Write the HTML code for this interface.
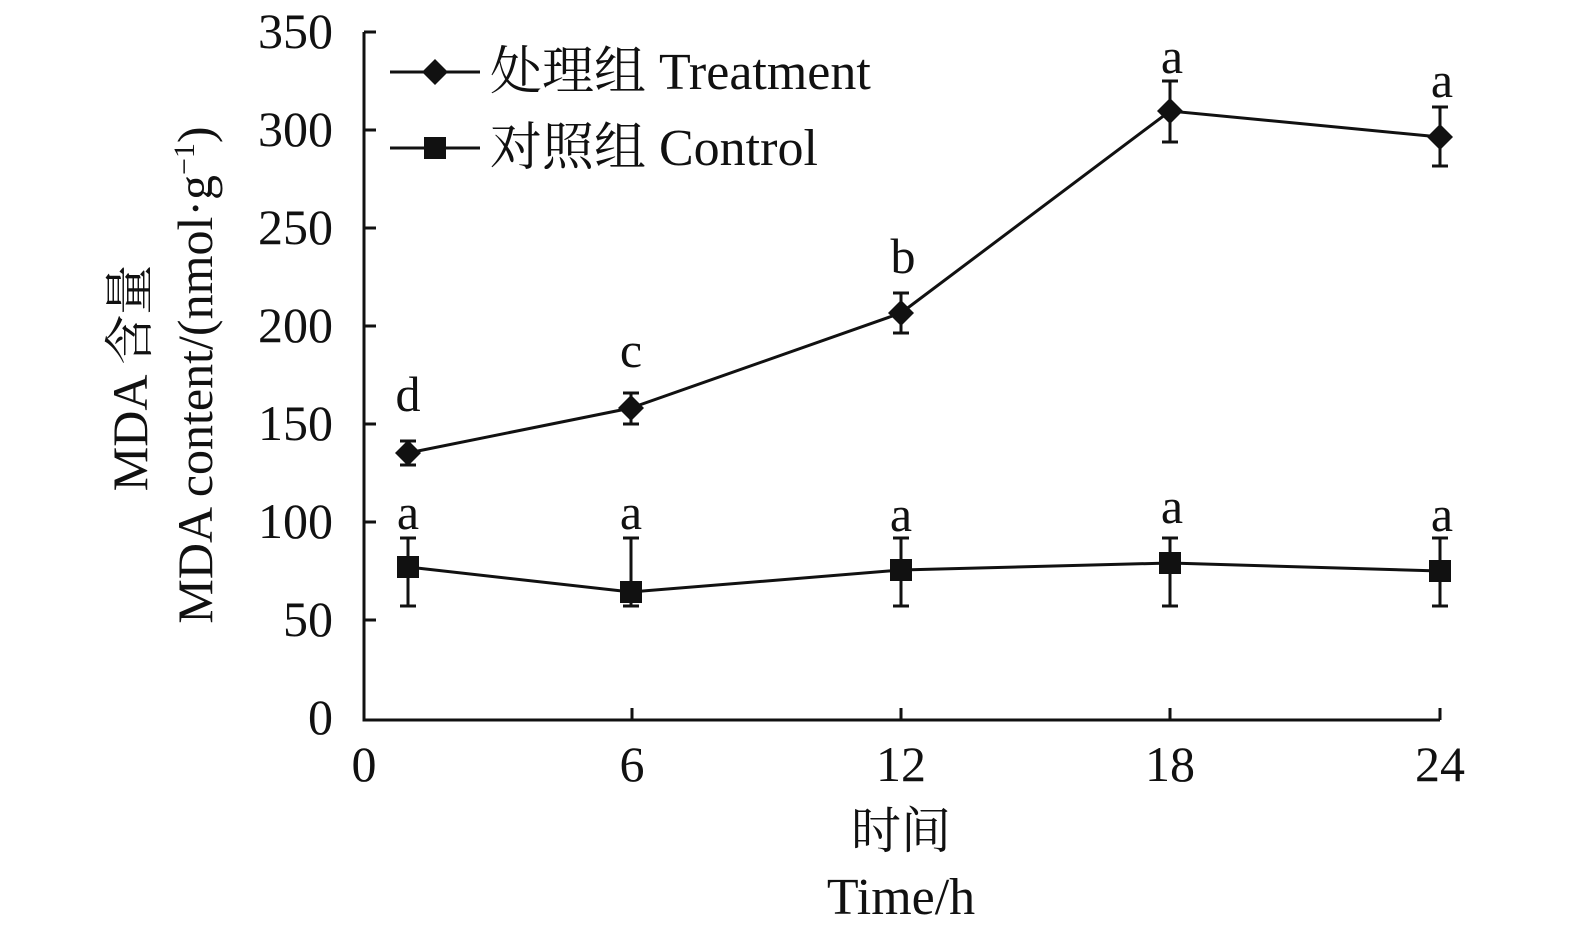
<!DOCTYPE html>
<html><head><meta charset="utf-8"><style>body{margin:0;background:#fff}svg{display:block}</style></head><body>
<svg width="1575" height="936" xmlns="http://www.w3.org/2000/svg" font-family="'Liberation Serif','Noto Serif CJK SC',serif" fill="#111">
<g stroke="#111" stroke-width="3" fill="none">
<path d="M364 32 V720 H1440"/>
<path d="M364 32h12M364 130h12M364 228h12M364 326h12M364 424h12M364 522h12M364 620h12"/>
<path d="M632 720v-12M901 720v-12M1170 720v-12M1440 720v-12"/>
<polyline points="408,453 631,408 901,313 1170,111 1440,137"/>
<polyline points="408,567 631,592 901,570 1170,563 1440,571"/>
<path d="M408 441V465M400 441h16M400 465h16 M631 393V424M623 393h16M623 424h16 M901 293V333M893 293h16M893 333h16 M1170 81V142M1162 81h16M1162 142h16 M1440 107V166M1432 107h16M1432 166h16"/>
<path d="M408 538V606M400 538h16M400 606h16 M631 538V606M623 538h16M623 606h16 M901 538V606M893 538h16M893 606h16 M1170 538V606M1162 538h16M1162 606h16 M1440 538V606M1432 538h16M1432 606h16"/>
<path d="M390 72H480M390 148H480"/>
</g>
<g>
<path d="M408 440l13 13-13 13-13-13z"/><path d="M631 395l13 13-13 13-13-13z"/><path d="M901 300l13 13-13 13-13-13z"/><path d="M1170 98l13 13-13 13-13-13z"/><path d="M1440 124l13 13-13 13-13-13z"/>
<path d="M435 59l13 13-13 13-13-13z"/>
<rect x="397" y="556" width="22" height="22"/><rect x="620" y="581" width="22" height="22"/><rect x="890" y="559" width="22" height="22"/><rect x="1159" y="552" width="22" height="22"/><rect x="1429" y="560" width="22" height="22"/>
<rect x="424" y="137" width="22" height="22"/>
</g>
<g font-size="50" text-anchor="end">
<text x="333" y="48">350</text><text x="333" y="146">300</text><text x="333" y="244">250</text><text x="333" y="342">200</text><text x="333" y="440">150</text><text x="333" y="538">100</text><text x="333" y="636">50</text><text x="333" y="734">0</text>
</g>
<g font-size="50" text-anchor="middle">
<text x="364" y="781">0</text><text x="632" y="781">6</text><text x="901" y="781">12</text><text x="1170" y="781">18</text><text x="1440" y="781">24</text>
<text x="408" y="411">d</text><text x="631" y="367">c</text><text x="903" y="273">b</text><text x="1172" y="73">a</text><text x="1442" y="97">a</text>
<text x="408" y="529">a</text><text x="631" y="529">a</text><text x="901" y="531">a</text><text x="1172" y="523">a</text><text x="1442" y="531">a</text>
<text x="901" y="848">时间</text><text x="901" y="914" font-size="52">Time/h</text>
</g>
<text x="490" y="89" font-size="52">处理组 Treatment</text>
<text x="490" y="165" font-size="52">对照组 Control</text>
<g font-size="50" text-anchor="middle">
<text transform="translate(147,378) rotate(-90)">MDA 含量</text>
<text transform="translate(212,375) rotate(-90)">MDA content/(nmol·g<tspan font-size="30" dy="-18">−1</tspan><tspan dy="18">)</tspan></text>
</g>
</svg>
</body></html>
